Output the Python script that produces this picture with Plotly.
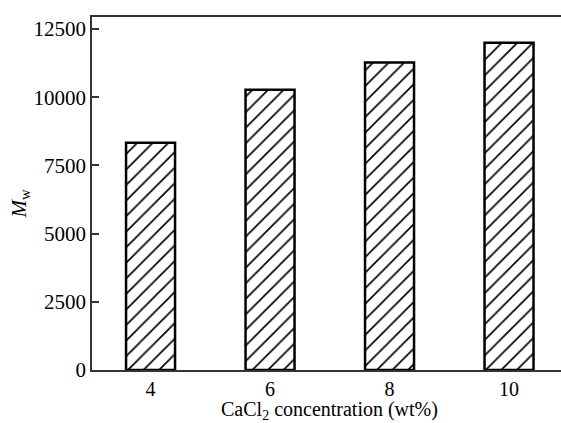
import plotly.graph_objects as go

categories = ["4", "6", "8", "10"]
mw_values = [8330, 10270, 11270, 12000]
y_tick_vals = [0, 2500, 5000, 7500, 10000, 12500]
y_tick_text = ["0", "2500", "5000", "7500", "10000", "12500"]

FONT = "Liberation Serif, Times New Roman, serif"
xpos = list(range(len(categories)))

fig = go.Figure()
fig.add_trace(go.Bar(
    x=xpos, y=mw_values, width=0.41,
    marker=dict(
        color="white",
        line=dict(color="black", width=2.5),
        pattern=dict(shape="/", size=11, solidity=0.15, fgcolor="#000000",
                     fgopacity=1, bgcolor="white", fillmode="replace"),
    ),
    showlegend=False,
))

fig.update_layout(
    width=561, height=423,
    margin=dict(l=92, r=0, t=17, b=53),
    plot_bgcolor="white", paper_bgcolor="white",
    font=dict(family=FONT, size=21, color="black"),
    xaxis=dict(
        range=[-0.49, 3.435], tickvals=xpos, ticktext=categories,
        showline=True, linecolor="#333", linewidth=1.5, mirror=True,
        ticks="", showgrid=False, zeroline=False,
        tickfont=dict(family=FONT, size=20, color="black"),
    ),
    yaxis=dict(
        range=[0, 12940], tickvals=y_tick_vals, ticktext=y_tick_text,
        showline=True, linecolor="#333", linewidth=1.5,
        ticks="inside", ticklen=7, tickwidth=1.5, tickcolor="#333",
        showgrid=False, zeroline=False,
        tickfont=dict(family=FONT, size=21, color="black"),
    ),
    annotations=[
        dict(text="CaCl<sub>2</sub> concentration (wt%)", xref="x", yref="paper",
             x=1.5, y=0, yshift=-40.5, showarrow=False, xanchor="center", yanchor="middle",
             font=dict(family=FONT, size=20, color="black")),
        dict(text="<i>M</i><sub>w</sub>", xref="paper", yref="paper",
             x=0, y=0.5, xshift=-73, yshift=-10, showarrow=False, textangle=-90,
             xanchor="center", yanchor="middle",
             font=dict(family=FONT, size=21, color="black")),
    ],
)

fig.write_html("out.html")
